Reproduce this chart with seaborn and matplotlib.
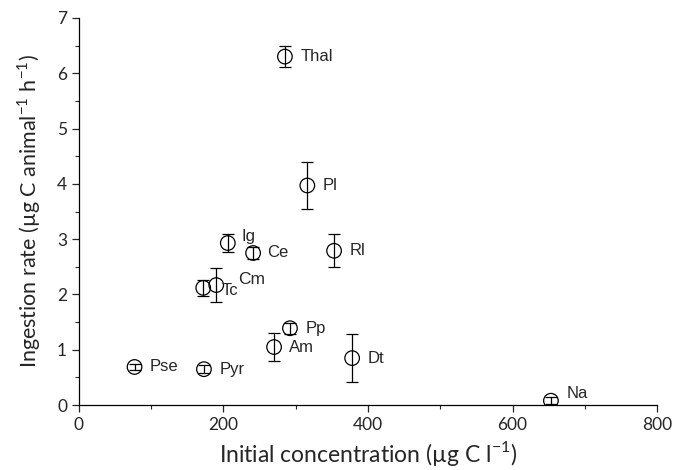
import matplotlib
matplotlib.use('Agg')
import matplotlib.pyplot as plt
import seaborn as sns
import pandas as pd
from matplotlib.ticker import MultipleLocator

# dados
especies = ['Thal', 'Pl', 'Rl', 'Ig', 'Ce', 'Tc', 'Cm', 'Pp', 'Am', 'Dt', 'Pse', 'Pyr', 'Na']
concentracao = [285, 316, 353, 206, 241, 172, 190, 292, 270, 378, 77, 173, 653]
ingestao = [6.30, 3.97, 2.79, 2.93, 2.75, 2.12, 2.17, 1.39, 1.05, 0.85, 0.69, 0.65, 0.08]
erro = [0.19, 0.42, 0.30, 0.16, 0.10, 0.15, 0.30, 0.10, 0.26, 0.44, 0.05, 0.07, 0.06]

df = pd.DataFrame({'especie': especies, 'conc': concentracao, 'ing': ingestao, 'erro': erro})

sns.set_style('ticks')
plt.rcParams['font.family'] = ['Liberation Sans', 'DejaVu Sans']
plt.rcParams['mathtext.fontset'] = 'custom'
plt.rcParams['mathtext.rm'] = 'Lato'

fig = plt.figure(figsize=(6.86, 4.70), dpi=100)
ax = fig.add_axes([0.115, 0.138, 0.843, 0.824])

ax.errorbar(df['conc'], df['ing'], yerr=df['erro'], fmt='none', ecolor='black',
            elinewidth=0.9, capsize=4.5, capthick=0.9, zorder=2)
sns.scatterplot(data=df, x='conc', y='ing', ax=ax, s=110, marker='o',
                facecolor='none', edgecolor='black', linewidth=0.9, zorder=3)

# deslocamento dos rotulos (pontos)
desloc = {'Ig': (10, 5), 'Ce': (10, 0), 'Tc': (13, -2), 'Cm': (16, 4), 'Na': (11, 5)}
for _, r in df.iterrows():
    dx, dy = desloc.get(r['especie'], (11, 0))
    tam = 12.5 if r['especie'] == 'Cm' else 12
    ax.annotate(r['especie'], (r['conc'], r['ing']), xytext=(dx, dy),
                textcoords='offset points', va='center', ha='left', fontsize=tam)

ax.set_xlim(0, 800)
ax.set_ylim(0, 7)
ax.xaxis.set_major_locator(MultipleLocator(200))
ax.xaxis.set_minor_locator(MultipleLocator(100))
ax.yaxis.set_major_locator(MultipleLocator(1))
ax.yaxis.set_minor_locator(MultipleLocator(0.5))
ax.tick_params(which='major', length=5, width=0.9, labelsize=12.5, direction='out')
ax.tick_params(which='minor', length=3, width=0.8, direction='out')
for lab in ax.get_xticklabels() + ax.get_yticklabels():
    lab.set_family(['Lato', 'DejaVu Sans'])
for s in ['left', 'bottom']:
    ax.spines[s].set_linewidth(0.9)
    ax.spines[s].set_color('black')
sns.despine(ax=ax)

ax.set_xlabel('Initial concentration (µg C l$^{-1}$)', fontsize=16.5, family=['Lato', 'DejaVu Sans'])
ax.set_ylabel('Ingestion rate (µg C animal$^{-1}$ h$^{-1}$)', fontsize=15.5,
              family=['Lato', 'DejaVu Sans'], labelpad=10)

fig.savefig('out.png', dpi=100)
